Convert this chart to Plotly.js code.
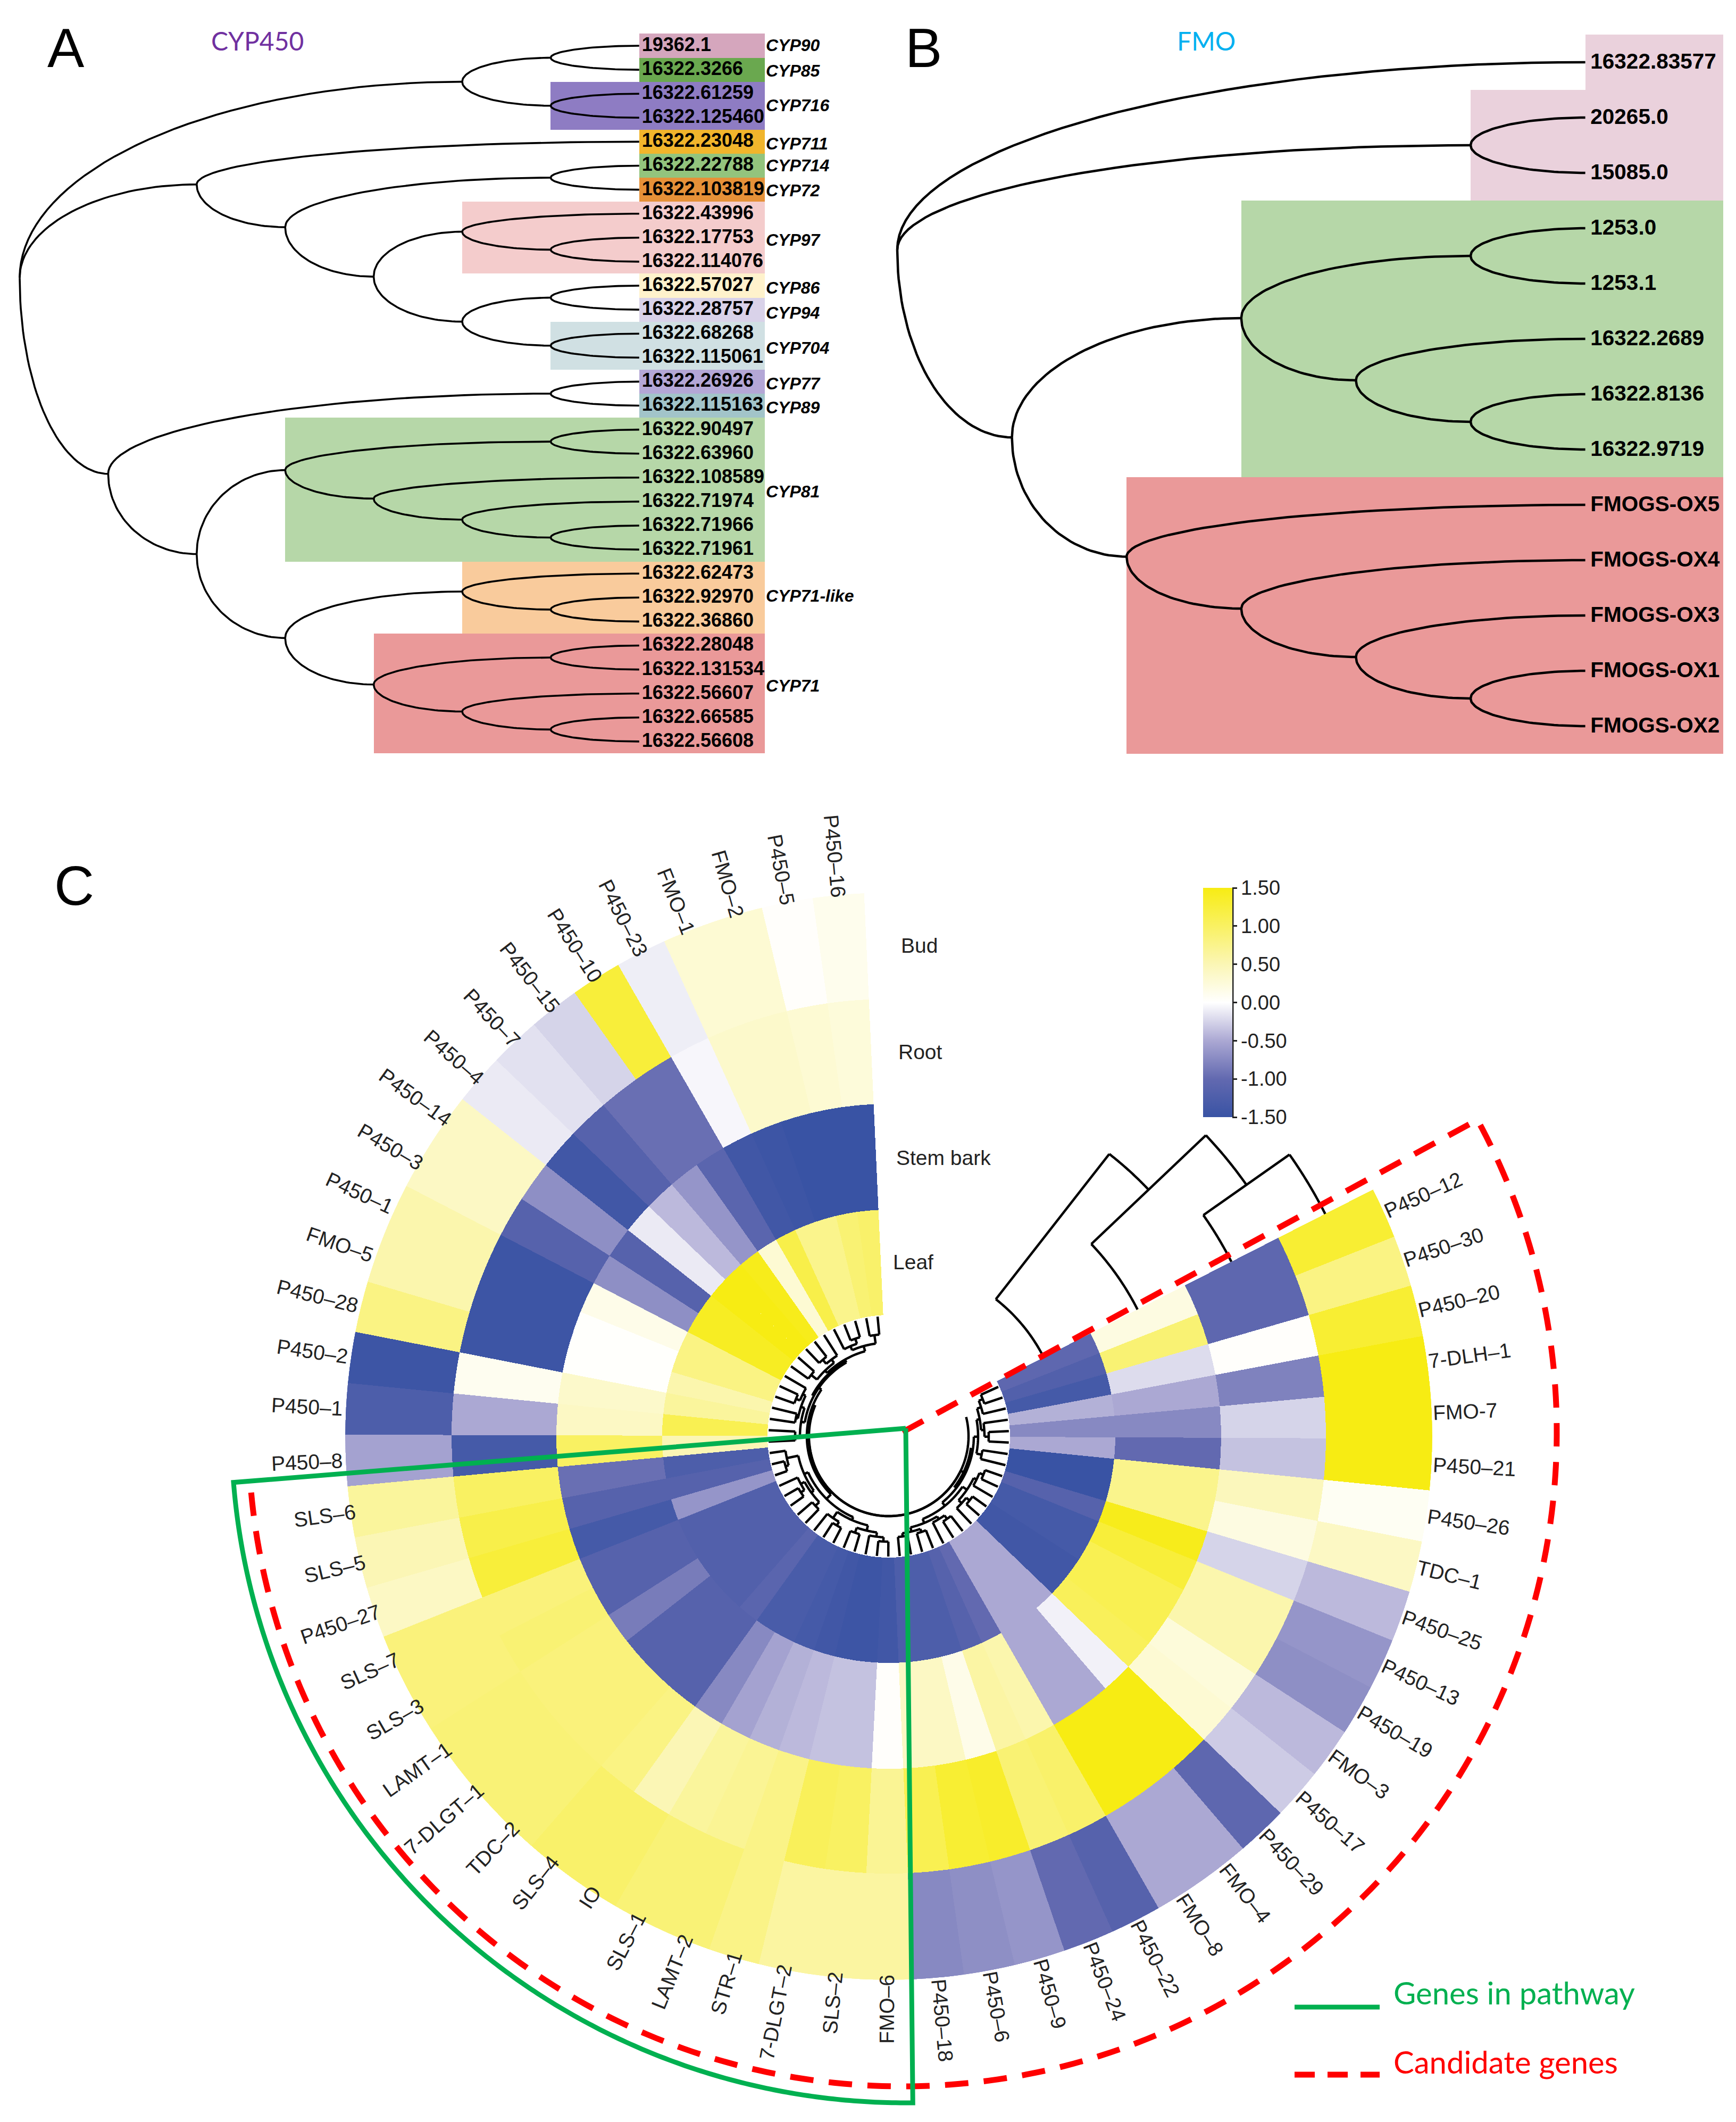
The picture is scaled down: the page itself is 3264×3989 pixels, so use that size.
<!DOCTYPE html>
<html><head><meta charset="utf-8">
<script src="https://cdn.plot.ly/plotly-3.0.1.min.js"></script>
<style>html,body{margin:0;padding:0;background:#fff}</style></head>
<body><div id="chart" style="width:3264px;height:3989px"></div>
<script>
// ---------- Panel C data ----------
const genes = ["P450–16","P450–5","FMO–2","FMO–1","P450–23","P450–10","P450–15","P450–7","P450–4","P450–14","P450–3","P450–1","FMO–5","P450–28","P450–2","P450–1","P450–8",
"SLS–6","SLS–5","P450–27","SLS–7","SLS–3","LAMT–1","7-DLGT–1","TDC–2","SLS–4","IO","SLS–1","LAMT–2","STR–1","7-DLGT–2","SLS–2","FMO–6",
"P450–18","P450–6","P450–9","P450–24","P450–22","FMO–8","FMO–4","P450–29","P450–17","FMO–3","P450–19","P450–13","P450–25","TDC–1","P450–26","P450–21","FMO-7","7-DLH–1","P450–20","P450–30","P450–12"];
const bud = [.12,.03,.3,.3,-.1,1.25,-.25,-.17,-.12,.4,.4,.55,.55,.8,-1.45,-1.25,-.55,
 .65,.5,.4,.85,.85,.88,.88,.88,.95,.95,.88,.88,.78,.62,.62,.62,
 -.75,-.7,-.65,-1,-1.15,-.5,-.5,-1.05,-.3,-.4,-.7,-.65,-.4,.4,.08,1.5,1.5,1.5,1.3,.8,1.3];
const root = [.25,.3,.35,.35,-.05,-.95,-.95,-1.15,-1.4,-.7,-1.15,-1.45,-1.45,-1.45,.1,-.5,-1.35,
 1,1.15,1.25,.85,.9,.85,.85,.85,.8,.5,.65,.7,.78,1.05,1,.7,
 1.1,1.3,1.35,.9,.95,1.5,1.5,1.5,.3,.25,.55,.55,-.25,.2,.45,-.35,-.25,-.8,.03,-1.05,-1.05];
const stem = [-1.5,-1.5,-1.5,-1.45,-1.4,-1.1,-.65,-.4,-.12,-1.15,-.7,.15,.02,.02,.35,.4,1,
 -.95,-1.15,-1.35,-1.15,-1.15,-.85,-1.15,-1.15,-1.15,-.75,-.55,-.45,-.4,-.35,-.35,.03,
 .4,.4,.15,.6,.55,-.5,-.5,-.08,1.05,1.1,1.1,1.25,1.45,.75,.75,-1,-.75,-.5,-.2,.9,.2];
const leaf = [.95,.9,.75,.75,1.15,.3,1.45,1.5,1.5,1.4,1.4,.8,.8,.55,.65,1.1,.5,
 -1.25,-1.15,-.65,-1.2,-1.2,-1.2,-1.2,-1.2,-1.1,-1.3,-1.3,-1.35,-1.4,-1.45,-1.45,-1.4,
 -1.25,-1.25,-1.25,-1.15,-1,-.5,-.5,-.5,-1.4,-1.4,-1.35,-1.35,-1.15,-1.5,-1.5,-.5,-.75,-.45,-1.35,-1.2,-1.05];
const rings = [["Bud",bud,822,1022],["Root",root,625,822],["Stem bark",stem,426,625],["Leaf",leaf,228,426]];
const cbTicks = [-1.5,-1,-.5,0,.5,1,1.5];
const cbText = ["-1.50","-1.00","-0.50","0.00","0.50","1.00","1.50"];
const heatScale = [[0,"#3953A4"],[.1667,"#6269B0"],[.3333,"#ABA8D3"],[.5,"#FFFFFF"],[.6667,"#FBF6B5"],[.8333,"#F9F162"],[1,"#F7EC13"]];
// gene tree inside the ring: [radius, child, child]; leaf = gene number
const g = (r,a,b)=>[r,a,b];
const geneLeft = g(160,g(166,g(176,g(192,1,2),g(184,g(194,3,4),5)),g(172,g(180,6,g(190,7,8)),g(186,9,10))),g(167,g(174,g(180,11,g(188,12,13)),g(178,14,15)),g(176,16,17)));
const geneBottom = g(166,g(174,g(196,18,g(202,19,20)),g(180,g(188,21,g(196,22,23)),g(190,24,25))),g(172,g(186,26,g(194,27,28)),g(182,g(192,29,30),g(190,31,g(198,32,33)))));
const geneRight = g(160,g(168,g(176,g(184,g(190,34,35),g(190,36,37)),g(182,38,g(190,39,40))),g(178,g(186,41,g(194,42,43)),g(184,44,g(192,45,46)))),g(168,g(178,47,48),g(174,g(180,g(188,49,50),51),g(182,52,g(190,53,54)))));
const geneTree = g(150,g(154,geneLeft,geneBottom),geneRight);
const geneTrunkArcs = [[150,157,374],[156,322,352],[163,120,152]];
// sample tree: [angle of node, child, child]; leaf = ring mid radius
const sampleTree = [52,327,[43.5,525,[35.1,723,921]]];
// outline sectors
const redSector = {R:1230, from:28.5, to:-174.8};
const greenSector = {R:1268, from:184.6, to:270.6};

// ---------- Panel A data ----------
const aLeaves = ["19362.1","16322.3266","16322.61259","16322.125460","16322.23048","16322.22788","16322.103819","16322.43996","16322.17753","16322.114076","16322.57027","16322.28757","16322.68268","16322.115061","16322.26926","16322.115163","16322.90497","16322.63960","16322.108589","16322.71974","16322.71966","16322.71961","16322.62473","16322.92970","16322.36860","16322.28048","16322.131534","16322.56607","16322.66585","16322.56608"];
const aTree = [0,
 [5,[6,0,1],[6,2,3]],
 [2,4,[3,[6,5,6],[4,[5,7,[6,8,9]],[5,[6,10,11],[6,12,13]]]]],
 [1,[6,14,15],[2,[3,[6,16,17],[4,18,[5,19,[6,20,21]]]],[3,[5,22,[6,23,24]],[4,[6,25,26],[5,27,[6,28,29]]]]]]];
const aBandFirst = [0,1,2,4,5,6,7,10,11,12,14,15,16,22,25];
const aBandLast  = [0,1,3,4,5,6,9,10,11,13,14,15,21,24,29];
const aBandLevel = [7,7,6,7,7,7,5,7,7,6,7,7,3,5,4];
const aBandColor = ["#D5A6BD","#6AA84F","#8E7CC3","#F1B52C","#93C47D","#E69138","#F4CCCC","#FFF2CC","#D9D2E9","#D0E0E3","#B4A7D6","#A2C4C9","#B6D7A8","#F9CB9C","#EA9999"];
const cypNames = ["CYP90","CYP85","CYP716","CYP711","CYP714","CYP72","CYP97","CYP86","CYP94","CYP704","CYP77","CYP89","CYP81","CYP71-like","CYP71"];
const cypRows = [.05,1.1,2.55,4.15,5.05,6.1,8.15,10.15,11.2,12.65,14.15,15.15,18.65,23,26.75];

// ---------- Panel B data ----------
const bLeaves = ["16322.83577","20265.0","15085.0","1253.0","1253.1","16322.2689","16322.8136","16322.9719","FMOGS-OX5","FMOGS-OX4","FMOGS-OX3","FMOGS-OX1","FMOGS-OX2"];
const bTree = [0,0,[5,1,2],[1,[3,[5,3,4],[4,5,[5,6,7]]],[2,8,[3,9,[4,10,[5,11,12]]]]]];
const bBandFirst = [0,1,3,8];
const bBandLast  = [0,2,7,12];
const bBandLevel = [6,5,3,2];
const bBandColor = ["#EAD1DC","#EAD1DC","#B6D7A8","#EA9999"];

// ---------- page geometry ----------
const W=3264,H=3989;
const px=x=>x/W, py=y=>1-y/H;
const A={x0:37,dx:166.4,y0:86,dy:45.1}, B={x0:1687,dx:215.6,y0:117,dy:104};
const C={x:1671,y:2700,R:1022};
const RS={x:1697,y:2692,R:1280}, GS={x:1703,y:2685,R:1285};
const step=(387-92.6)/54, a0=92.6;
const theta=i=>a0+step*(i-0.5);           // i is the 1-based gene number
const dom=c=>({x:[px(c.x-c.R),px(c.x+c.R)],y:[py(c.y+c.R),py(c.y-c.R)]});

const traces=[];
// ---- cladograms
function clado(tree,leafLevel){
  const xs=[],ys=[];
  const yOf=n=>Array.isArray(n)?(yOf(n[1])+yOf(n[n.length-1]))/2:n;
  const lv=n=>Array.isArray(n)?n[0]:leafLevel;
  (function walk(n){
    if(!Array.isArray(n))return;
    const xp=n[0],yp=yOf(n);
    n.slice(1).forEach(c=>{
      const xc=lv(c),yc=yOf(c);
      for(let t=0;t<=40;t++){const u=t/40*Math.PI/2;xs.push(xp+(xc-xp)*(1-Math.cos(u)));ys.push(yp+(yc-yp)*Math.sin(u));}
      xs.push(null);ys.push(null);
      walk(c);
    });
  })(tree);
  return {xs,ys};
}
function bands(first,last,level,color,right,xa,ya){
  return {type:"bar",orientation:"h",xaxis:xa,yaxis:ya,showlegend:false,hoverinfo:"skip",
    y:first.map((f,i)=>(f+last[i])/2),width:first.map((f,i)=>last[i]-f+1),
    base:level,x:level.map(l=>right-l),marker:{color:color,line:{width:0}}};
}
traces.push(bands(aBandFirst,aBandLast,aBandLevel,aBandColor,(1438-A.x0)/A.dx,"x","y"));
traces.push(bands(bBandFirst,bBandLast,bBandLevel,bBandColor,(3240-B.x0)/B.dx,"x2","y2"));
const ca=clado(aTree,7), cb=clado(bTree,6);
traces.push({type:"scatter",mode:"lines",x:ca.xs,y:ca.ys,xaxis:"x",yaxis:"y",showlegend:false,hoverinfo:"skip",line:{color:"#000",width:3.6}});
traces.push({type:"scatter",mode:"lines",x:cb.xs,y:cb.ys,xaxis:"x2",yaxis:"y2",showlegend:false,hoverinfo:"skip",line:{color:"#000",width:4.5}});
traces.push({type:"scatter",mode:"text",x:aLeaves.map(()=>7.03),y:aLeaves.map((_,i)=>i+.02),text:aLeaves,textposition:"middle right",xaxis:"x",yaxis:"y",showlegend:false,hoverinfo:"skip",cliponaxis:false,
  textfont:{family:"Liberation Sans",size:36,color:"#000",weight:700}});
traces.push({type:"scatter",mode:"text",x:cypNames.map(()=>(1440-A.x0)/A.dx),y:cypRows,text:cypNames,textposition:"middle right",xaxis:"x",yaxis:"y",showlegend:false,hoverinfo:"skip",cliponaxis:false,
  textfont:{family:"Liberation Sans",size:32,color:"#000",weight:700,style:"italic"}});
traces.push({type:"scatter",mode:"text",x:bLeaves.map(()=>6.045),y:bLeaves.map((_,i)=>i+.02),text:bLeaves,textposition:"middle right",xaxis:"x2",yaxis:"y2",showlegend:false,hoverinfo:"skip",cliponaxis:false,
  textfont:{family:"Liberation Sans",size:40.5,color:"#000",weight:700}});
// legend key lines
traces.push({type:"scatter",mode:"lines",x:[2434,2594],y:[3773,3773],xaxis:"x3",yaxis:"y3",showlegend:false,hoverinfo:"skip",line:{color:"#00B050",width:9}});
traces.push({type:"scatter",mode:"lines",x:[2434,2594],y:[3900,3900],xaxis:"x3",yaxis:"y3",showlegend:false,hoverinfo:"skip",line:{color:"#FF0000",width:11,dash:"38px,24px"}});

// ---- circular heat map
rings.forEach((ring,k)=>{
  traces.push({type:"barpolar",subplot:"polar",showlegend:false,hoverinfo:"skip",
    theta:genes.map((_,i)=>theta(i+1)),
    width:genes.map(()=>step),
    base:genes.map(()=>ring[2]),
    r:genes.map(()=>ring[3]-ring[2]),
    marker:{color:ring[1],cmin:-1.5,cmax:1.5,colorscale:heatScale,showscale:k===0,line:{width:0},
      colorbar:{x:px(2262),xanchor:"left",xpad:0,y:py(1884.5),yanchor:"middle",ypad:0,
        thicknessmode:"pixels",thickness:55,lenmode:"pixels",len:431,outlinewidth:0,
        tickmode:"array",tickvals:cbTicks,ticktext:cbText,ticks:"outside",ticklen:9,tickwidth:3,tickcolor:"#222",
        tickfont:{family:"Liberation Sans",size:38,color:"#222"}}}});
});
// gene tree in polar form
(function(){
  const t=[],r=[];
  const ang=n=>Array.isArray(n)?(ang(n[1])+ang(n[2]))/2:theta(n);
  const rad=n=>Array.isArray(n)?n[0]:226;
  const arc=(rr,a1,a2)=>{const m=Math.max(2,Math.round(Math.abs(a2-a1)/1.5));for(let i=0;i<=m;i++){t.push(a1+(a2-a1)*i/m);r.push(rr);}t.push(null);r.push(null);};
  (function walk(n){
    if(!Array.isArray(n))return;
    [n[1],n[2]].forEach(c=>{t.push(ang(c),ang(c),null);r.push(rad(c),n[0],null);walk(c);});
    arc(n[0],ang(n[1]),ang(n[2]));
  })(geneTree);
  geneTrunkArcs.forEach(a=>arc(a[0],a[1],a[2]));
  traces.push({type:"scatterpolar",subplot:"polar",mode:"lines",theta:t,r:r,showlegend:false,hoverinfo:"skip",line:{color:"#000",width:4.5}});
})();
// sample tree in polar form
(function(){
  const t=[],r=[];
  const rad=n=>Array.isArray(n)?(rad(n[1])+rad(n[2]))/2:n;
  const hgt=n=>Array.isArray(n)?n[0]:27;
  (function walk(n){
    if(!Array.isArray(n))return;
    [n[1],n[2]].forEach(c=>{
      const h0=hgt(c),h1=n[0],rc=rad(c),m=30;
      for(let i=0;i<=m;i++){t.push(h0+(h1-h0)*i/m);r.push(rc);}
      t.push(null);r.push(null);walk(c);
    });
    t.push(n[0],n[0],null);r.push(rad(n[1]),rad(n[2]),null);
  })(sampleTree);
  traces.push({type:"scatterpolar",subplot:"polar",mode:"lines",theta:t,r:r,showlegend:false,hoverinfo:"skip",line:{color:"#000",width:4.5}});
})();
// outlines
function sector(s,close){
  const t=[s.from],r=[0];const n=240;
  for(let i=0;i<=n;i++){t.push(s.from+(s.to-s.from)*i/n);r.push(s.R);}
  if(close){t.push(s.to);r.push(0);}
  return {t,r};
}
const rs=sector(redSector,false), gs=sector(greenSector,true);
traces.push({type:"scatterpolar",subplot:"polar2",mode:"lines",theta:rs.t,r:rs.r,showlegend:false,hoverinfo:"skip",line:{color:"#FF0000",width:11,dash:"44px,29px"}});
traces.push({type:"scatterpolar",subplot:"polar3",mode:"lines",theta:gs.t,r:gs.r,showlegend:false,hoverinfo:"skip",line:{color:"#00B050",width:9,shape:"linear"}});

// ---- annotations
const ctx=document.createElement("canvas").getContext("2d");
ctx.font="39px 'Liberation Sans'";
const annotations=genes.map((name,i)=>{
  const a=theta(i+1), rad=a*Math.PI/180, w=ctx.measureText(name).width;
  const right=Math.cos(rad)>0;
  const gap=right?1024:(i>=17?1012:(i>=11?1028:1017));
  const rc=gap+w/2;
  return {xref:"paper",yref:"paper",x:px(C.x+rc*Math.cos(rad)),y:py(C.y-rc*Math.sin(rad)),text:name,showarrow:false,
    xanchor:"center",yanchor:"middle",textangle:right?-a:180-a,font:{family:"Liberation Sans",size:39,color:"#222"}};
});
const note=(x,y,text,size,color,family,anchor)=>({xref:"paper",yref:"paper",x:px(x),y:py(y),text,showarrow:false,xanchor:anchor||"left",yanchor:"middle",font:{family:family||"Liberation Sans",size,color:color||"#000"}});
annotations.push(
  note(87,90,"A",104),note(1700,90,"B",104),note(100,1665,"C",104),
  note(395,77,"CYP450",48,"#7030A0","Lato"),note(2211,77,"FMO",48,"#00B0F0","Lato"),
  note(1692,1777,"Bud",39,"#222"),note(1687,1977,"Root",39,"#222"),note(1683,2176,"Stem bark",39,"#222"),note(1677,2372,"Leaf",39,"#222"),
  note(2618,3745,"Genes in pathway",58,"#00B050","Lato"),note(2618,3875,"Candidate genes",58,"#FF0000","Lato")
);

const hidden={visible:false,fixedrange:true,domain:[0,1],showgrid:false,zeroline:false};
const polarOpts=d=>({domain:d,bgcolor:"rgba(0,0,0,0)",
  radialaxis:{visible:false,showgrid:false,showline:false,showticklabels:false,ticks:""},
  angularaxis:{visible:false,showgrid:false,showline:false,showticklabels:false,ticks:"",direction:"counterclockwise",rotation:0,thetaunit:"degrees"}});
const pol1=polarOpts(dom(C)); pol1.radialaxis.range=[0,C.R];
const pol2=polarOpts(dom(RS)); pol2.radialaxis.range=[0,RS.R];
const pol3=polarOpts(dom(GS)); pol3.radialaxis.range=[0,GS.R];
const layout={width:W,height:H,autosize:false,margin:{l:0,r:0,t:0,b:0,pad:0},paper_bgcolor:"#fff",plot_bgcolor:"rgba(0,0,0,0)",showlegend:false,
  font:{family:"Liberation Sans"},bargap:0,
  xaxis:{...hidden,range:[-A.x0/A.dx,(W-A.x0)/A.dx],anchor:"y"},
  yaxis:{...hidden,range:[(H-A.y0)/A.dy,-A.y0/A.dy],anchor:"x"},
  xaxis2:{...hidden,range:[-B.x0/B.dx,(W-B.x0)/B.dx],anchor:"y2"},
  yaxis2:{...hidden,range:[(H-B.y0)/B.dy,-B.y0/B.dy],anchor:"x2"},
  xaxis3:{...hidden,range:[0,W],anchor:"y3"},
  yaxis3:{...hidden,range:[H,0],anchor:"x3"},
  polar:pol1,polar2:pol2,polar3:pol3,
  annotations,
  shapes:[{type:"line",xref:"paper",yref:"paper",x0:px(2318),x1:px(2318),y0:py(1669),y1:py(2100),line:{color:"#222",width:3}}]};
Plotly.newPlot("chart",traces,layout,{displayModeBar:false,staticPlot:true});
</script></body></html>
